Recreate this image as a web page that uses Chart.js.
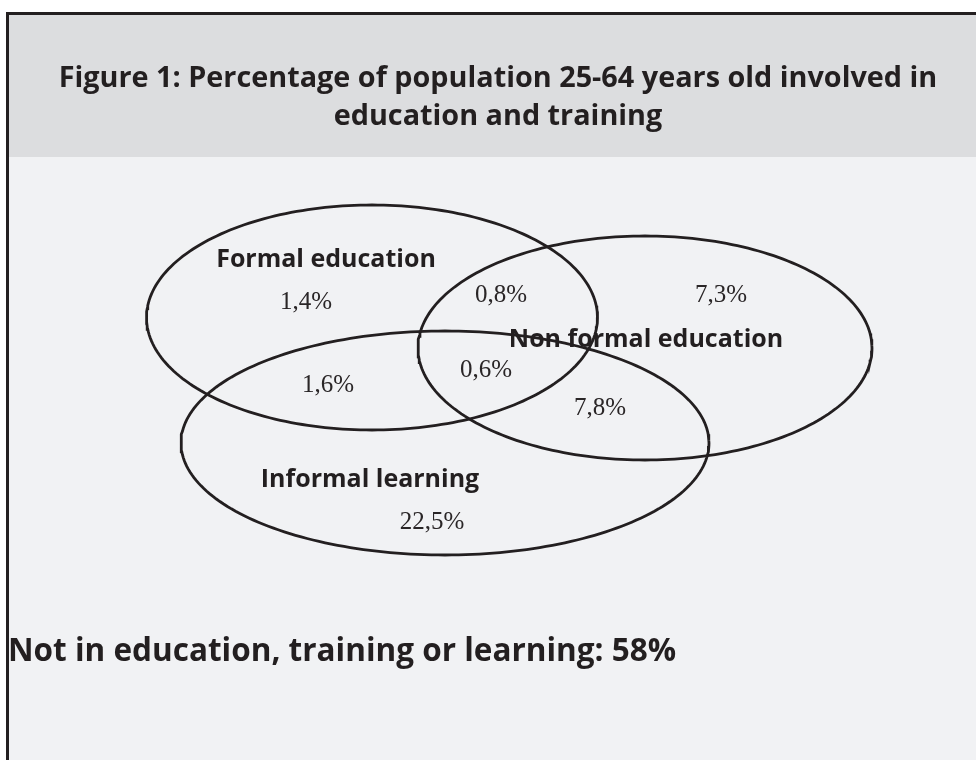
<!DOCTYPE html>
<html>
<head>
<meta charset="utf-8">
<script src="https://cdn.jsdelivr.net/npm/chart.js@4/dist/chart.umd.min.js"></script>
<style>
  html, body { margin: 0; padding: 0; background: #ffffff; }
  #wrap { width: 976px; height: 760px; position: relative; }
</style>
</head>
<body>
<div id="wrap"><canvas id="c"></canvas></div>
<script>
// ---------- data ----------
const titleLines = ['Figure 1: Percentage of population 25-64 years old involved in', 'education and training'];
const setNames = ['Formal education', 'Non formal education', 'Informal learning'];
const regionNames = ['Formal only', 'Formal + Non formal', 'Non formal only', 'Formal + Informal', 'All three', 'Non formal + Informal', 'Informal only'];
const regionValues = [1.4, 0.8, 7.3, 1.6, 0.6, 7.8, 22.5];
const outsideLabel = 'Not in education, training or learning';
const outsideValue = 58;

// ---------- layout (pixel geometry on a 976 x 760 value grid) ----------
const ellipseGeom = [
  { cx: 372, cy: 317.5, rx: 225.5, ry: 112.5 },
  { cx: 645, cy: 348,   rx: 227,   ry: 112 },
  { cx: 445, cy: 443,   rx: 264,   ry: 112 }
];
const setLabelPos = [ { x: 326, y: 267 }, { x: 646, y: 347 }, { x: 370, y: 487 } ];
const regionLabelPos = [
  { x: 306, y: 309 }, { x: 501, y: 302 }, { x: 721, y: 302 },
  { x: 328, y: 392 }, { x: 486, y: 377 }, { x: 600, y: 415 }, { x: 432, y: 529 }
];

function ellipsePoints(g) {
  const pts = [];
  const n = 240;
  for (let i = 0; i <= n; i++) {
    const t = (i / n) * Math.PI * 2;
    pts.push({ x: g.cx + g.rx * Math.cos(t), y: g.cy + g.ry * Math.sin(t) });
  }
  return pts;
}
const fmt = v => (Number.isInteger(v) ? String(v) : v.toFixed(1).replace('.', ',')) + '%';

const INK = '#231f20';

const decorPlugin = {
  id: 'decor',
  beforeDraw(chart) {
    const ctx = chart.ctx, xs = chart.scales.x, ys = chart.scales.y;
    const X = v => xs.getPixelForValue(v), Y = v => ys.getPixelForValue(v);
    ctx.save();
    ctx.fillStyle = '#ffffff';
    ctx.fillRect(0, 0, chart.width, chart.height);
    // body panel
    ctx.fillStyle = '#f1f2f4';
    ctx.fillRect(X(6), Y(12), X(976) - X(6), Y(760) - Y(12));
    // header band
    ctx.fillStyle = '#dcdddf';
    ctx.fillRect(X(6), Y(12), X(976) - X(6), Y(157) - Y(12));
    // border (top + left)
    ctx.fillStyle = INK;
    ctx.fillRect(X(6), Y(12), X(976) - X(6), 3);
    ctx.fillRect(X(6), Y(12), 3, Y(760) - Y(12));
    // title
    ctx.fillStyle = INK;
    ctx.textAlign = 'center';
    ctx.textBaseline = 'alphabetic';
    ctx.font = 'bold 28.8px "Open Sans"';
    ctx.fillText(titleLines[0], X(498), Y(87));
    ctx.fillText(titleLines[1], X(498), Y(125));
    ctx.restore();
  },
  afterDatasetsDraw(chart) {
    const ctx = chart.ctx, xs = chart.scales.x, ys = chart.scales.y;
    const X = v => xs.getPixelForValue(v), Y = v => ys.getPixelForValue(v);
    ctx.save();
    ctx.textBaseline = 'alphabetic';
    ctx.textAlign = 'center';
    ctx.fillStyle = INK;
    ctx.font = 'bold 25px "Open Sans"';
    setNames.forEach((s, i) => ctx.fillText(s, X(setLabelPos[i].x), Y(setLabelPos[i].y)));
    ctx.fillStyle = '#2a2627';
    ctx.font = '25px "Liberation Serif"';
    regionValues.forEach((v, i) => ctx.fillText(fmt(v), X(regionLabelPos[i].x), Y(regionLabelPos[i].y)));
    ctx.fillStyle = INK;
    ctx.textAlign = 'left';
    ctx.font = 'bold 31.5px "Open Sans"';
    ctx.fillText(outsideLabel + ': ' + fmt(outsideValue), X(8), Y(661));
    ctx.restore();
  }
};

new Chart(document.getElementById('c'), {
  type: 'scatter',
  data: {
    datasets: setNames.map((name, i) => ({
      label: name,
      data: ellipsePoints(ellipseGeom[i]),
      showLine: true,
      fill: false,
      borderColor: INK,
      borderWidth: 2.8,
      pointRadius: 0,
      pointHoverRadius: 0,
      tension: 0
    }))
  },
  options: {
    responsive: true,
    maintainAspectRatio: false,
    animation: false,
    events: [],
    layout: { padding: 0 },
    plugins: { legend: { display: false }, tooltip: { enabled: false }, title: { display: false } },
    scales: {
      x: { type: 'linear', min: 0, max: 976, display: false },
      y: { type: 'linear', min: 0, max: 760, reverse: true, display: false }
    }
  },
  plugins: [decorPlugin]
});
</script>
</body>
</html>
